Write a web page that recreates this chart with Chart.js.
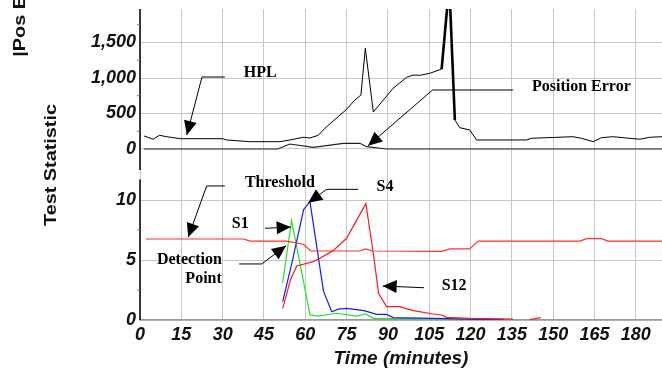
<!DOCTYPE html>
<html>
<head>
<meta charset="utf-8">
<script src="https://cdn.jsdelivr.net/npm/chart.js@4.4.1/dist/chart.umd.min.js"></script>
<style>
  html, body { margin: 0; padding: 0; background: #fff; }
</style>
</head>
<body>
<canvas id="chart" width="662" height="373"></canvas>
<script>
// top panel: HPL and |position error| (m) vs time (minutes)
const hplMin = [1.5, 4.8, 7, 9.7, 14.5, 30, 31.5, 40, 50.8, 54.4, 59.3, 61.7, 64.7, 67.1, 75, 78, 80.2, 81.8, 84.7, 91.9, 96.8, 99.2, 101.6, 105.2, 109.5, 112.0, 112.4, 114.3, 116.1, 119.7, 122.2, 140.3, 142.1, 157.2, 160.2, 164.5, 167.5, 171.7, 181.4, 185, 189.5];
const hplVal = [183, 137, 193, 173, 145, 145, 127, 103, 103, 127, 165, 155, 193, 291, 559, 690, 760, 1418, 521, 855, 1010, 1042, 1038, 1066, 1126, 2200, 2200, 408, 300, 268, 127, 127, 151, 173, 151, 103, 159, 173, 137, 165, 173];
const peMin = [1.5, 50, 54.4, 62.9, 73.8, 79.8, 82.3, 89.5, 189.5];
const peVal = [0, 0, 70, 24, 80, 80, 32, 0, 0];

// bottom panel: test statistics
const thMin = [2.2, 37.5, 40, 53.2, 59.3, 62, 79.8, 81.9, 84.3, 109.5, 112.5, 119.7, 122.8, 159.7, 162.1, 167.5, 169.9, 189.5];
const thVal = [6.75, 6.75, 6.58, 6.58, 6.31, 5.75, 5.75, 5.92, 5.75, 5.72, 5.92, 5.92, 6.58, 6.58, 6.78, 6.78, 6.58, 6.58];
const s1Min = [51.8, 55.0, 56.9, 61.7, 64.7, 71.3, 78.6, 81.9, 84.7, 104, 125];
const s1Val = [3.1, 8.28, 6.1, 0.42, 0.33, 0.56, 0.33, 0.5, 0.14, 0.1, 0.05];
const s4Min = [51.8, 55.3, 59.4, 61.7, 66.6, 69.6, 72, 75, 81.3, 85.9, 89.5, 91.9, 111.2, 122, 132];
const s4Val = [1.53, 4.9, 9.2, 9.86, 2.4, 0.69, 0.9, 0.97, 0.78, 0.47, 0.47, 0.2, 0.12, 0.05, 0.05];
const s12Min = [51.8, 54.7, 56.9, 62.9, 65.3, 70.1, 75, 82.0, 84.7, 86.6, 89.5, 94.3, 99.2, 106.4, 109.5, 111.2, 119.7, 135.4, 138, 141.5, 145.5];
const s12Val = [0.97, 3.4, 4.5, 4.86, 5.14, 5.78, 6.81, 9.7, 5.56, 2.22, 1.11, 1.11, 0.78, 0.5, 0.42, 0.22, 0.14, 0.08, null, 0.03, 0.2];

const xTicks = [0, 15, 30, 45, 60, 75, 90, 105, 120, 135, 150, 165, 180];
const topTicks = [0, 500, 1000, 1500];
const botTicks = [0, 5, 10];
const topMinor = [250, 750, 1250, 1750];
const botMinor = [2.5, 7.5];

// callouts, in data units of each panel (last point of an arrow is its tip)
const notes = [
  { axis: 'yTop', text: ['HPL'], at: [37.7, 1074], arrow: [[30.8, 1014], [22.5, 1014], [17.0, 197]] },
  { axis: 'yTop', text: ['Position Error'], at: [142.3, 873], arrow: [[135.4, 831], [106.2, 831], [82.8, 46]] },
  { axis: 'yBot', text: ['Threshold'], at: [38.1, 11.44], arrow: [[30.8, 11.17], [24.2, 11.17], [17.5, 6.89]] },
  { axis: 'yBot', text: ['S4'], at: [85.9, 11.06], arrow: [[79.2, 10.89], [67.8, 10.89], [61.1, 9.78]] },
  { axis: 'yBot', text: ['S1'], at: [33.3, 8.0], arrow: [[45.4, 7.64], [54.7, 7.75]] },
  { axis: 'yBot', text: ['Detection', 'Point'], at: [29.7, 5.0], align: 'right', arrow: [[36.0, 4.67], [44.2, 4.67], [53.0, 6.19]] },
  { axis: 'yBot', text: ['S12'], at: [109.5, 2.86], arrow: [[103.1, 2.69], [88.1, 2.83]] }
];

const pts = (xs, ys) => xs.map((x, i) => ({ x: x, y: ys[i] }));

const tickFont = { family: '"Liberation Sans", Arial, sans-serif', size: 18, weight: 'bold', style: 'italic' };
const gridColor = '#c8c8c8';

// fixed width for the left axes, no label overhang padding
const fitLeft = s => { s.width = 140; s.paddingTop = 0; s.paddingBottom = 0; };

const decor = {
  id: 'decor',
  afterDraw(chart) {
    const { ctx, scales } = chart;
    const x = scales.x, yTop = scales.yTop, yBot = scales.yBot;
    ctx.save();

    // left axis lines, with a small break between the panels
    ctx.strokeStyle = '#000';
    ctx.lineWidth = 1.5;
    ctx.beginPath();
    ctx.moveTo(x.left, yTop.top);
    ctx.lineTo(x.left, yTop.bottom);
    ctx.moveTo(x.left, yBot.getPixelForValue(11.7));
    ctx.lineTo(x.left, yBot.bottom);
    ctx.stroke();

    // minor tick marks
    ctx.lineWidth = 1;
    ctx.strokeStyle = '#777';
    ctx.beginPath();
    topMinor.forEach(v => { const p = yTop.getPixelForValue(v); ctx.moveTo(x.left - 3, p); ctx.lineTo(x.left, p); });
    botMinor.forEach(v => { const p = yBot.getPixelForValue(v); ctx.moveTo(x.left - 3, p); ctx.lineTo(x.left, p); });
    ctx.stroke();

    // y titles
    ctx.fillStyle = '#111';
    ctx.font = 'bold 16px "Liberation Sans", Arial, sans-serif';
    ctx.textBaseline = 'middle';
    ctx.save();
    ctx.translate(51.5, 165);
    ctx.rotate(-Math.PI / 2);
    ctx.scale(1.24, 1);
    ctx.textAlign = 'center';
    ctx.fillText('Test Statistic', 0, 0);
    ctx.restore();
    ctx.save();
    ctx.translate(21, 56.7);
    ctx.rotate(-Math.PI / 2);
    ctx.scale(1.24, 1);
    ctx.textAlign = 'left';
    ctx.fillText('|Pos Error| (m)', 0, 0);
    ctx.restore();

    // callouts
    ctx.font = 'bold 16px "Liberation Serif", "Times New Roman", serif';
    ctx.fillStyle = '#000';
    ctx.strokeStyle = '#000';
    ctx.lineWidth = 1;
    notes.forEach(n => {
      const y = scales[n.axis];
      ctx.textAlign = n.align || 'left';
      const tx = x.getPixelForValue(n.at[0]);
      const ty = y.getPixelForValue(n.at[1]);
      n.text.forEach((t, i) => ctx.fillText(t, tx, ty + i * 18.5));
      const p = n.arrow.map(a => [x.getPixelForValue(a[0]), y.getPixelForValue(a[1])]);
      ctx.beginPath();
      ctx.moveTo(p[0][0], p[0][1]);
      for (let i = 1; i < p.length; i++) ctx.lineTo(p[i][0], p[i][1]);
      ctx.stroke();
      const a = p[p.length - 2], b = p[p.length - 1];
      const ang = Math.atan2(b[1] - a[1], b[0] - a[0]);
      const len = 14, half = 6.5;
      ctx.beginPath();
      ctx.moveTo(b[0], b[1]);
      ctx.lineTo(b[0] - len * Math.cos(ang) + half * Math.sin(ang), b[1] - len * Math.sin(ang) - half * Math.cos(ang));
      ctx.lineTo(b[0] - len * Math.cos(ang) - half * Math.sin(ang), b[1] - len * Math.sin(ang) + half * Math.cos(ang));
      ctx.closePath();
      ctx.fill();
    });
    ctx.restore();
  }
};

new Chart(document.getElementById('chart'), {
  type: 'line',
  plugins: [decor],
  data: {
    datasets: [
      {
        label: 'HPL',
        data: pts(hplMin, hplVal),
        yAxisID: 'yTop',
        borderColor: '#000',
        borderWidth: 1,
        segment: { borderWidth: c => (c.p0.parsed.y > 1500 || c.p1.parsed.y > 1500) ? 2.6 : 1 }
      },
      { label: 'Position Error', data: pts(peMin, peVal), yAxisID: 'yTop', borderColor: '#222', borderWidth: 1.2 },
      { label: 'Threshold', data: pts(thMin, thVal), yAxisID: 'yBot', borderColor: '#ff3030', borderWidth: 1.2 },
      { label: 'S12', data: pts(s12Min, s12Val), yAxisID: 'yBot', borderColor: '#ff1a1a', borderWidth: 1.2 },
      { label: 'S4', data: pts(s4Min, s4Val), yAxisID: 'yBot', borderColor: '#1a1aff', borderWidth: 1.2 },
      { label: 'S1', data: pts(s1Min, s1Val), yAxisID: 'yBot', borderColor: '#22e622', borderWidth: 1.2 }
    ]
  },
  options: {
    responsive: false,
    animation: false,
    devicePixelRatio: 1,
    layout: { padding: { top: 9, left: 0, right: 0, bottom: 0 } },
    elements: { point: { radius: 0 }, line: { tension: 0 } },
    plugins: { legend: { display: false }, tooltip: { enabled: false }, title: { display: false } },
    scales: {
      x: {
        type: 'linear',
        min: 0,
        max: 189.5,
        afterBuildTicks: s => { s.ticks = xTicks.map(v => ({ value: v })); },
        afterFit: s => { s.height = 53; },
        grid: { color: gridColor, drawTicks: false },
        border: { color: '#999', width: 1.5 },
        ticks: { font: tickFont, color: '#111', padding: 4, maxRotation: 0, autoSkip: false },
        title: {
          display: true,
          text: 'Time (minutes)',
          color: '#111',
          font: { family: '"Liberation Sans", Arial, sans-serif', size: 19, weight: 'bold', style: 'italic' },
          padding: { top: 0, bottom: 3 }
        }
      },
      // listed first so that it sits at the bottom of the stack
      yBot: {
        type: 'linear',
        position: 'left',
        stack: 'panels',
        stackWeight: 150,
        min: 0,
        max: 12.5,
        afterBuildTicks: s => { s.ticks = botTicks.map(v => ({ value: v })); },
        afterFit: fitLeft,
        grid: { color: gridColor, drawTicks: false },
        border: { display: false },
        ticks: { font: tickFont, color: '#111', padding: 4 }
      },
      yTop: {
        type: 'linear',
        position: 'left',
        stack: 'panels',
        stackWeight: 161,
        min: -296,
        max: 1972,
        afterBuildTicks: s => { s.ticks = topTicks.map(v => ({ value: v })); },
        afterFit: fitLeft,
        grid: { color: gridColor, drawTicks: false },
        border: { display: false },
        ticks: { font: tickFont, color: '#111', padding: 4, callback: v => v.toLocaleString('en-US') }
      }
    }
  }
});
</script>
</body>
</html>
